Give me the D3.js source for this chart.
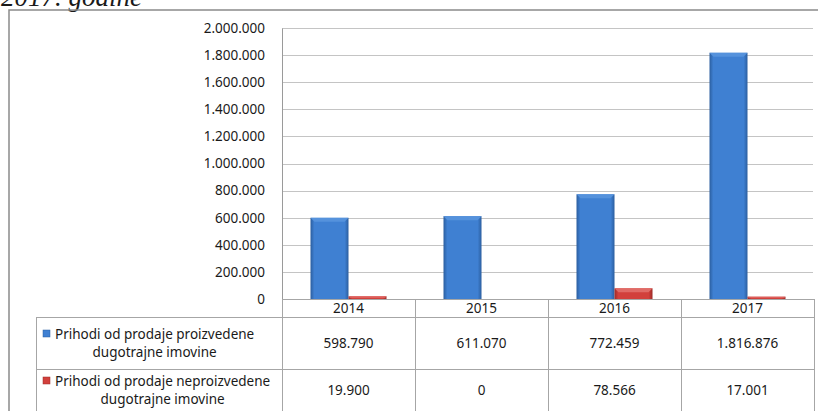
<!DOCTYPE html>
<html>
<head>
<meta charset="utf-8">
<script src="https://cdn.jsdelivr.net/npm/d3@7"></script>
<style>
  body { margin: 0; background: #fff; }
  svg { display: block; }
  text { font-family: "Noto Sans", sans-serif; fill: #1a1a1a; }
</style>
</head>
<body>
<svg id="chart" width="818" height="411"></svg>
<script>
const years = ["2014", "2015", "2016", "2017"];
const seriesNames = [
  ["Prihodi od prodaje proizvedene", "dugotrajne imovine"],
  ["Prihodi od prodaje neproizvedene", "dugotrajne imovine"]
];
const produced = [598790, 611070, 772459, 1816876];
const nonProduced = [19900, 0, 78566, 17001];
const yTicks = [0, 200000, 400000, 600000, 800000, 1000000, 1200000, 1400000, 1600000, 1800000, 2000000];

const svg = d3.select("#chart");
const plot = { left: 282, right: 814, top: 28, bottom: 299 };
const rows = [299, 317, 369, 421];
const legendLeft = 36;
const fs = "13.5px";

const locale = d3.formatLocale({ decimal: ",", thousands: ".", grouping: [3], currency: ["", ""] });
const fmt = locale.format(",d");

const series = [
  { key: "p", values: produced, c: ["#2b5e9f", "#3f80d2", "#5592dc"] },
  { key: "n", values: nonProduced, c: ["#9c2a27", "#d2403c", "#e06a66"] }
];

// gradients for bevel look
const defs = svg.append("defs");
series.forEach(s => {
  const g = defs.append("linearGradient").attr("id", "grad-" + s.key)
    .attr("x1", 0).attr("x2", 1).attr("y1", 0).attr("y2", 0);
  [[0, s.c[0]], [0.1, s.c[1]], [0.5, s.c[1]], [0.9, s.c[1]], [1, s.c[0]]].forEach(([o, c]) =>
    g.append("stop").attr("offset", o).attr("stop-color", c));
});

// title remnant at top (cut off like in the source)
svg.append("text")
  .attr("x", 1).attr("y", 6)
  .style("font-family", "'Liberation Serif', serif")
  .style("font-style", "italic")
  .style("font-size", "27px")
  .text("2017. godine");

// outer frame
svg.append("rect")
  .attr("x", 9).attr("y", 10).attr("width", 820).attr("height", 420)
  .attr("fill", "none").attr("stroke", "#8a8a8a").attr("stroke-width", 1.5);

const y = d3.scaleLinear().domain([0, 2000000]).range([plot.bottom, plot.top]);
const x0 = d3.scaleBand().domain(years).range([plot.left, plot.right]);
const x1 = d3.scaleBand().domain(series.map(s => s.key)).range([0, x0.bandwidth()])
  .paddingInner(0).paddingOuter(0.75);

// gridlines
svg.append("g").selectAll("line").data(yTicks.filter(t => t > 0)).join("line")
  .attr("x1", plot.left).attr("x2", plot.right - 1)
  .attr("y1", d => Math.round(y(d)) + 0.5).attr("y2", d => Math.round(y(d)) + 0.5)
  .attr("stroke", "#c4c4c4");

// y axis
const yAxis = svg.append("g")
  .attr("transform", `translate(${plot.left},0)`)
  .call(d3.axisLeft(y).tickValues(yTicks).tickFormat(fmt).tickSize(0).tickPadding(17));
yAxis.select(".domain").attr("stroke", "#9a9a9a");
yAxis.selectAll("text").style("font-size", fs).style("font-family", "'Noto Sans', sans-serif").attr("fill", "#1a1a1a");

// bars
const groups = svg.append("g").selectAll("g").data(years).join("g")
  .attr("transform", d => `translate(${x0(d)},0)`);
series.forEach(s => {
  groups.each(function(yr, i) {
    const v = s.values[i];
    if (v <= 0) return;
    const g = d3.select(this);
    const bx = x1(s.key), bw = x1.bandwidth();
    const top = y(v), h = y(0) - y(v);
    g.append("rect").attr("x", bx).attr("y", top).attr("width", bw).attr("height", h)
      .attr("fill", `url(#grad-${s.key})`);
    const cap = Math.min(4, h / 2);
    g.append("path")
      .attr("d", `M${bx},${top}L${bx + bw},${top}L${bx + bw - cap},${top + cap}L${bx + cap},${top + cap}Z`)
      .attr("fill", s.c[2]);
  });
});

// data table
const tbl = svg.append("g").attr("stroke", "#a6a6a6").attr("fill", "none");
tbl.append("line").attr("x1", plot.left).attr("x2", plot.right).attr("y1", rows[0] + 0.5).attr("y2", rows[0] + 0.5);
[rows[1], rows[2]].forEach(r =>
  tbl.append("line").attr("x1", legendLeft).attr("x2", plot.right).attr("y1", r + 0.5).attr("y2", r + 0.5));
years.concat(["end"]).forEach(yr => {
  const xx = yr === "end" ? plot.right : x0(yr);
  tbl.append("line").attr("x1", Math.round(xx) + 0.5).attr("x2", Math.round(xx) + 0.5)
    .attr("y1", rows[0]).attr("y2", 411);
});
tbl.append("line").attr("x1", legendLeft + 0.5).attr("x2", legendLeft + 0.5).attr("y1", rows[1]).attr("y2", 411);

// header years
svg.append("g").selectAll("text").data(years).join("text")
  .attr("x", d => x0(d) + x0.bandwidth() / 2)
  .attr("y", (rows[0] + rows[1]) / 2 + 5)
  .attr("text-anchor", "middle").style("font-size", fs)
  .text(d => d);

// value cells and legend cells
series.forEach((s, si) => {
  const cy = (rows[si + 1] + rows[si + 2]) / 2 + (si === 0 ? 0 : -5);
  svg.append("g").selectAll("text").data(years).join("text")
    .attr("x", d => x0(d) + x0.bandwidth() / 2)
    .attr("y", cy + 5)
    .attr("text-anchor", "middle").style("font-size", fs)
    .text((d, i) => fmt(s.values[i]));

  const lg = svg.append("g");
  const textLeft = 55;
  const lines = lg.selectAll("text").data(seriesNames[si]).join("text")
    .attr("y", (d, i) => cy - 9 + i * 18 + 5)
    .style("font-size", fs)
    .text(d => d);
  const widths = [];
  lines.each(function() { widths.push(this.getComputedTextLength()); });
  const maxW = d3.max(widths);
  lines.attr("x", textLeft + maxW / 2).attr("text-anchor", "middle");
  const firstLeft = textLeft + (maxW - widths[0]) / 2;
  lg.append("rect")
    .attr("x", firstLeft - 12).attr("y", cy - 9 - 4)
    .attr("width", 7).attr("height", 7)
    .attr("fill", s.c[1]).attr("stroke", s.c[0]).attr("stroke-width", 0.5);
});
</script>
</body>
</html>
